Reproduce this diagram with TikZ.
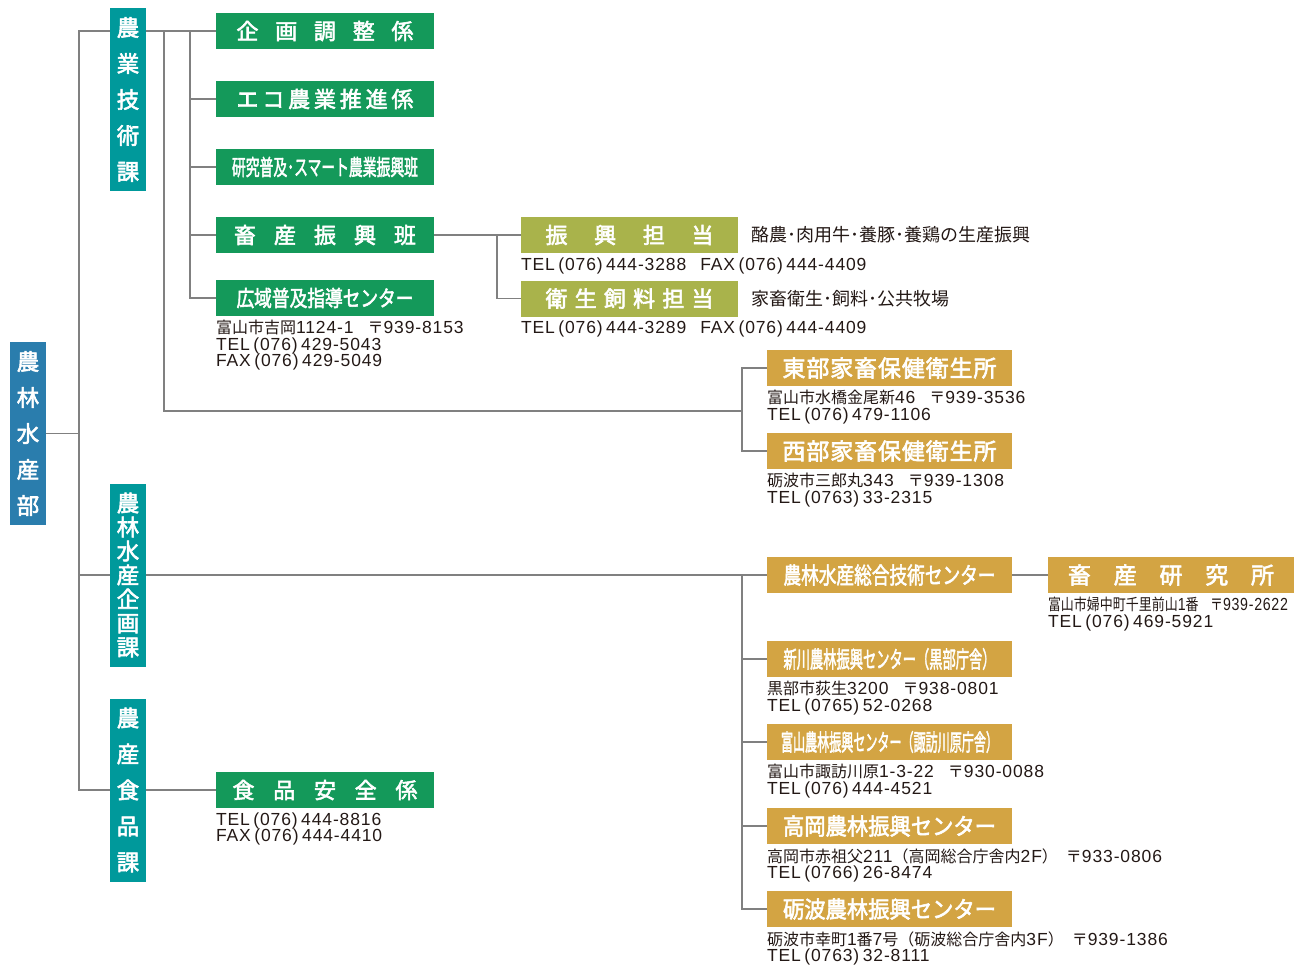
\documentclass[tikz,border=0pt]{standalone}
\usepackage{fontspec}
\setmainfont{Noto Sans CJK JP}
\newfontfamily\boxfont[FakeBold=2.5]{Noto Sans CJK JP}
\newfontfamily\adLatin[LetterSpace=5]{Liberation Sans}
\usepackage{graphicx}
\usetikzlibrary{positioning}
\definecolor{buBlue}{HTML}{2A7DAD}
\definecolor{kaTeal}{HTML}{00999B}
\definecolor{kakariGreen}{HTML}{14995A}
\definecolor{tantouOlive}{HTML}{A9B34B}
\definecolor{shisetsuGold}{HTML}{D3A443}
\definecolor{senGray}{HTML}{808080}
\definecolor{mojiDark}{HTML}{231815}
% spread chars over a width / squeeze text to a width
\newcommand{\spread}[2]{\makebox[#1][s]{#2}}
\newcommand{\squeeze}[2]{\resizebox{#1}{\height}{#2}}
% latin parts of addresses
\newcommand{\ad}[1]{{\adLatin\fontsize{17.5}{16.5}\selectfont #1}}
\newcommand{\areacode}[1]{\kern3.5pt(#1)\kern3.5pt}
\tikzset{
    bu/.style={fill=buBlue, text=white, minimum width=36pt, minimum height=183pt, inner sep=0pt, align=center, font=\boxfont\fontsize{22.5}{36}\selectfont},
    ka/.style={fill=kaTeal, text=white, minimum width=36pt, minimum height=183pt, inner sep=0pt, align=center, font=\boxfont\fontsize{22.5}{36}\selectfont},
    kakari/.style={fill=kakariGreen, text=white, minimum width=218pt, minimum height=36pt, inner sep=0pt, font=\boxfont\fontsize{22}{22}\selectfont},
    tantou/.style={fill=tantouOlive, text=white, minimum width=217pt, minimum height=36pt, inner sep=0pt, font=\boxfont\fontsize{22}{22}\selectfont},
    shisetsu/.style={fill=shisetsuGold, text=white, minimum width=245pt, minimum height=36pt, inner sep=0pt, font=\boxfont\fontsize{23}{23}\selectfont},
    conn/.style={draw=senGray, line width=1.8pt},
    addr/.style={anchor=north west, inner sep=0pt, align=left, text=mojiDark, font=\fontsize{16}{16.5}\selectfont},
    desc/.style={anchor=west, inner sep=0pt, text=mojiDark, font=\fontsize{18}{18}\selectfont},
}

\begin{document}
\begin{tikzpicture}[x=1pt, y=-1pt]
    \useasboundingbox (0,0) rectangle (1305,967);

    % Bu and ka
    \node[bu] (bu) at (28,433.5) {農\\林\\水\\産\\部};
    \node[ka] (gijutsu) at (128,99.5) {農\\業\\技\\術\\課};
    \node[ka, font=\boxfont\fontsize{22.5}{24}\selectfont] (kikakuka) at (128,575) {農\\林\\水\\産\\企\\画\\課};
    \node[ka] (shokuhinka) at (128,790) {農\\産\\食\\品\\課};

    % Kakari under gijutsu
    \node[kakari] (kikaku) at (325,31) {\spread{177pt}{企\hfill 画\hfill 調\hfill 整\hfill 係}};
    \node[kakari] (eco) at (325,99) {\spread{177pt}{エ\hfill コ\hfill 農\hfill 業\hfill 推\hfill 進\hfill 係}};
    \node[kakari] (kenkyu) at (325,167) {\squeeze{186pt}{研究普及･スマート農業振興班}};
    \node[kakari] (chikusan) at (325,235) {\spread{182pt}{畜\hfill 産\hfill 振\hfill 興\hfill 班}};
    \node[kakari] (kouiki) at (325,298) {\squeeze{177pt}{広域普及指導センター}};
    \node[addr] (kouikiAd) at ([yshift=-4pt]kouiki.south west) {富山市吉岡\ad{1124-1}\hspace{14pt}〒\ad{939-8153}\\\ad{TEL\areacode{076}429-5043}\\\ad{FAX\areacode{076}429-5049}};

    % Tantou
    \node[tantou] (shinkou) at (629.5,235) {\spread{168pt}{振\hfill 興\hfill 担\hfill 当}};
    \node[addr] (shinkouAd) at ([yshift=-4pt]shinkou.south west) {\ad{TEL\areacode{076}444-3288}\hspace{14pt}\ad{FAX\areacode{076}444-4409}};
    \node[desc] (shinkouDesc) at ([xshift=13pt]shinkou.east) {酪農･肉用牛･養豚･養鶏の生産振興};
    \node[tantou] (eisei) at (629.5,298.5) {\spread{168pt}{衛\hfill 生\hfill 飼\hfill 料\hfill 担\hfill 当}};
    \node[addr] (eiseiAd) at ([yshift=-4pt]eisei.south west) {\ad{TEL\areacode{076}444-3289}\hspace{14pt}\ad{FAX\areacode{076}444-4409}};
    \node[desc] (eiseiDesc) at ([xshift=13pt]eisei.east) {家畜衛生･飼料･公共牧場};

    % Kachiku hoken eiseisho
    \node[shisetsu] (toubu) at (889.5,368) {\spread{214pt}{東\hfill 部\hfill 家\hfill 畜\hfill 保\hfill 健\hfill 衛\hfill 生\hfill 所}};
    \node[addr] (toubuAd) at ([yshift=-4pt]toubu.south west) {富山市水橋金尾新\ad{46}\hspace{14pt}〒\ad{939-3536}\\\ad{TEL\areacode{076}479-1106}};
    \node[shisetsu] (seibu) at (889.5,451) {\spread{214pt}{西\hfill 部\hfill 家\hfill 畜\hfill 保\hfill 健\hfill 衛\hfill 生\hfill 所}};
    \node[addr] (seibuAd) at ([yshift=-4pt]seibu.south west) {砺波市三郎丸\ad{343}\hspace{14pt}〒\ad{939-1308}\\\ad{TEL\areacode{0763}33-2315}};

    % Centers under kikakuka
    \node[shisetsu] (sougou) at (889.5,575) {\squeeze{212pt}{農林水産総合技術センター}};
    \node[shisetsu, minimum width=246pt] (chikuken) at (1171,575) {\spread{206pt}{畜\hfill 産\hfill 研\hfill 究\hfill 所}};
    \node[addr] (chikukenAd) at ([yshift=-4pt]chikuken.south west) {\squeeze{240pt}{富山市婦中町千里前山\ad{1}番\hspace{14pt}〒\ad{939-2622}}\\\ad{TEL\areacode{076}469-5921}};
    \node[shisetsu] (niikawa) at (889.5,659) {\squeeze{212pt}{新川農林振興センター（黒部庁舎）}};
    \node[addr] (niikawaAd) at ([yshift=-4pt]niikawa.south west) {黒部市荻生\ad{3200}\hspace{14pt}〒\ad{938-0801}\\\ad{TEL\areacode{0765}52-0268}};
    \node[shisetsu] (toyama) at (889.5,742) {\squeeze{217pt}{富山農林振興センター（諏訪川原庁舎）}};
    \node[addr] (toyamaAd) at ([yshift=-4pt]toyama.south west) {富山市諏訪川原\ad{1-3-22}\hspace{14pt}〒\ad{930-0088}\\\ad{TEL\areacode{076}444-4521}};
    \node[shisetsu] (takaoka) at (889.5,826) {\squeeze{213pt}{高岡農林振興センター}};
    \node[addr] (takaokaAd) at ([yshift=-4pt]takaoka.south west) {高岡市赤祖父\ad{211}（高岡総合庁舎内\ad{2F}）\hspace{8pt}〒\ad{933-0806}\\\ad{TEL\areacode{0766}26-8474}};
    \node[shisetsu] (tonami) at (889.5,909) {\squeeze{213pt}{砺波農林振興センター}};
    \node[addr] (tonamiAd) at ([yshift=-4pt]tonami.south west) {砺波市幸町\ad{1}番\ad{7}号（砺波総合庁舎内\ad{3F}）\hspace{8pt}〒\ad{939-1386}\\\ad{TEL\areacode{0763}32-8111}};

    % Shokuhin
    \node[kakari] (shokuhin) at (325,790) {\spread{185pt}{食\hfill 品\hfill 安\hfill 全\hfill 係}};
    \node[addr] (shokuhinAd) at ([yshift=-4pt]shokuhin.south west) {\ad{TEL\areacode{076}444-8816}\\\ad{FAX\areacode{076}444-4410}};

    % Trunk lines
    \coordinate (t1) at (79,31);
    \coordinate (t3) at (79,790);
    \coordinate (b1) at (190,31);
    \coordinate (b2) at (164,31);
    \coordinate (b3) at (497,235);
    \coordinate (j1) at (742,411);
    \coordinate (j2) at (742,575);

    \draw[conn] (bu.east) -- (bu.east -| t1);
    \draw[conn] (gijutsu.west |- t1) -- (t1) -- (t3) -- (shokuhinka.west);
    \draw[conn] (kikakuka.west) -- (kikakuka.west -| t1);
    \draw[conn] (gijutsu.east |- t1) -- (kikaku.west);
    \draw[conn] (b1) |- (kouiki.west);
    \draw[conn] (eco.west) -- (eco.west -| b1);
    \draw[conn] (kenkyu.west) -- (kenkyu.west -| b1);
    \draw[conn] (chikusan.west) -- (chikusan.west -| b1);
    \draw[conn] (b2) |- (j1);
    \draw[conn] (toubu.west) -| (j1) |- (seibu.west);
    \draw[conn] (chikusan.east) -- (shinkou.west);
    \draw[conn] (b3) |- (eisei.west);
    \draw[conn] (kikakuka.east) -- (sougou.west);
    \draw[conn] (j2) |- (tonami.west);
    \draw[conn] (niikawa.west) -- (niikawa.west -| j2);
    \draw[conn] (toyama.west) -- (toyama.west -| j2);
    \draw[conn] (takaoka.west) -- (takaoka.west -| j2);
    \draw[conn] (sougou.east) -- (chikuken.west);
    \draw[conn] (shokuhinka.east) -- (shokuhin.west);
\end{tikzpicture}
\end{document}
